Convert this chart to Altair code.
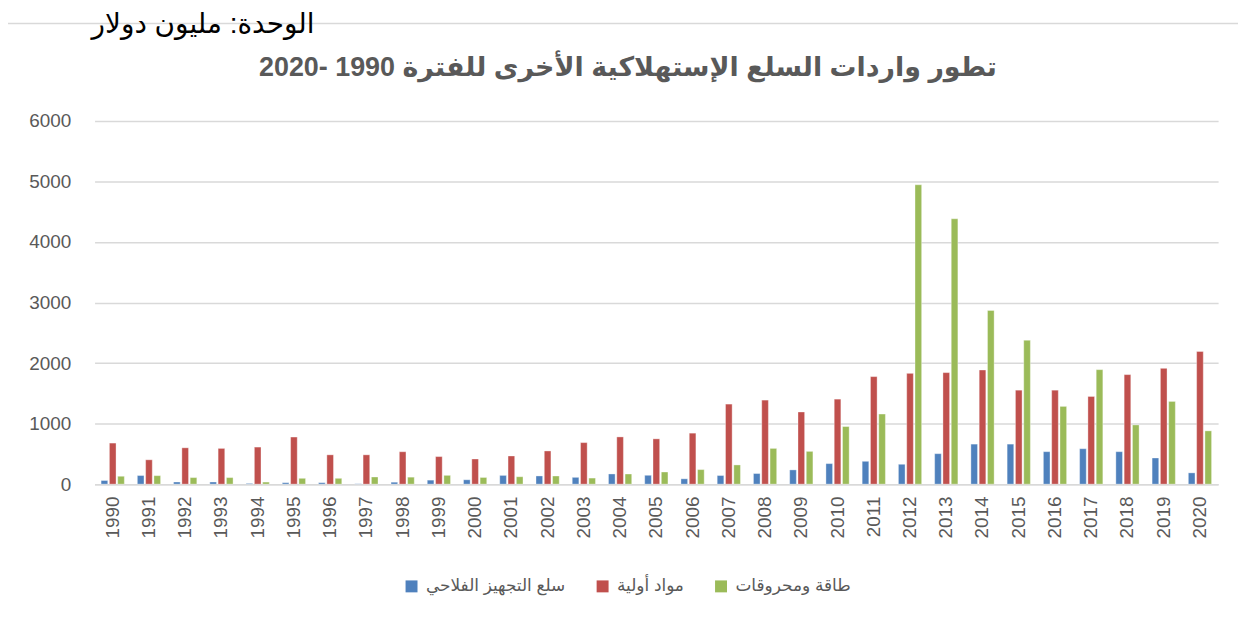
import altair as alt
import pandas as pd

years = ["1990", "1991", "1992", "1993", "1994", "1995", "1996", "1997", "1998", "1999",
         "2000", "2001", "2002", "2003", "2004", "2005", "2006", "2007", "2008", "2009",
         "2010", "2011", "2012", "2013", "2014", "2015", "2016", "2017", "2018", "2019", "2020"]

series_names = ["سلع التجهيز الفلاحي", "مواد أولية", "طاقة ومحروقات"]
series_colors = ["#4F81BD", "#C0504D", "#9BBB59"]

equipment = [60, 142, 35, 35, 12, 24, 24, 6, 32, 66, 72, 144, 135, 112, 168, 146,
             88, 142, 175, 235, 339, 377, 328, 503, 661, 661, 536, 585, 536, 432, 186]
raw_materials = [678, 402, 600, 590, 612, 778, 484, 484, 535, 455, 415, 465, 548, 686, 780, 748,
                 842, 1322, 1388, 1192, 1404, 1776, 1830, 1842, 1885, 1552, 1552, 1448, 1809, 1913, 2191]
energy = [130, 140, 108, 108, 34, 96, 96, 118, 115, 145, 110, 122, 134, 100, 167, 200,
          240, 317, 590, 541, 951, 1158, 4945, 4383, 2869, 2377, 1284, 1891, 978, 1366, 880]

y_ticks = [0, 1000, 2000, 3000, 4000, 5000, 6000]

title_text = "تطور واردات السلع الإستهلاكية الأخرى للفترة 1990 -2020"
unit_text = "الوحدة: مليون دولار"

rows = []
for name, vals in zip(series_names, [equipment, raw_materials, energy]):
    for yr, v in zip(years, vals):
        rows.append({"year": yr, "series": name, "value": v})
df = pd.DataFrame(rows)

FONT = "Liberation Sans, DejaVu Sans, sans-serif"
GRAY = "#595959"
GRID = "#D9D9D9"

bars = alt.Chart(df).mark_bar(stroke="white", strokeWidth=0.6, strokeOpacity=0.6).encode(
    x=alt.X("year:N", sort=years,
            scale=alt.Scale(paddingInner=0.313, paddingOuter=0.157),
            axis=alt.Axis(title=None, labelAngle=270, labelFontSize=19, labelColor=GRAY,
                          labelFont=FONT, labelPadding=12, ticks=False, grid=False,
                          domainColor=GRID, domainWidth=1.5)),
    xOffset=alt.XOffset("series:N", sort=series_names,
                        scale=alt.Scale(paddingInner=0.2, paddingOuter=0.1)),
    y=alt.Y("value:Q", scale=alt.Scale(domain=[0, 6000], nice=False),
            axis=alt.Axis(title=None, values=y_ticks, format="d", labelFontSize=19,
                          labelColor=GRAY, labelFont=FONT, labelPadding=24, ticks=False,
                          domain=False, gridColor=GRID, gridWidth=1.5)),
    color=alt.Color("series:N", sort=series_names,
                    scale=alt.Scale(domain=series_names, range=series_colors),
                    legend=alt.Legend(title=None, orient="none", direction="horizontal",
                                      legendX=310, legendY=459, symbolType="square",
                                      symbolSize=144, symbolStrokeWidth=0,
                                      labelFontSize=17, labelColor=GRAY, labelFont=FONT,
                                      columnPadding=28, labelOffset=6)),
)

frame = alt.Chart(pd.DataFrame({"a": [0]})).mark_rect(
    fillOpacity=0, stroke=GRID, strokeWidth=1.5
).encode(x=alt.value(-88), x2=alt.value(1300), y=alt.value(-98), y2=alt.value(700))

unit = alt.Chart(pd.DataFrame({"t": [unit_text]})).mark_text(
    fontSize=28, color="black", align="center", baseline="middle", font=FONT
).encode(x=alt.value(109), y=alt.value(-96), text="t:N")

title = alt.Chart(pd.DataFrame({"t": ["\u202b" + title_text + "\u202c"]})).mark_text(
    fontSize=27, fontWeight="bold", color=GRAY, align="center", baseline="middle", font=FONT
).encode(x=alt.value(536), y=alt.value(-53), text="t:N")

chart = alt.layer(frame, bars, unit, title).properties(
    width=1129, height=365,
    autosize=alt.AutoSizeParams(type="none"),
    padding={"left": 87, "top": 112, "right": 20, "bottom": 120},
).configure_view(strokeWidth=0)

chart.save("out.html", embed_options={"renderer": "svg", "actions": False})
